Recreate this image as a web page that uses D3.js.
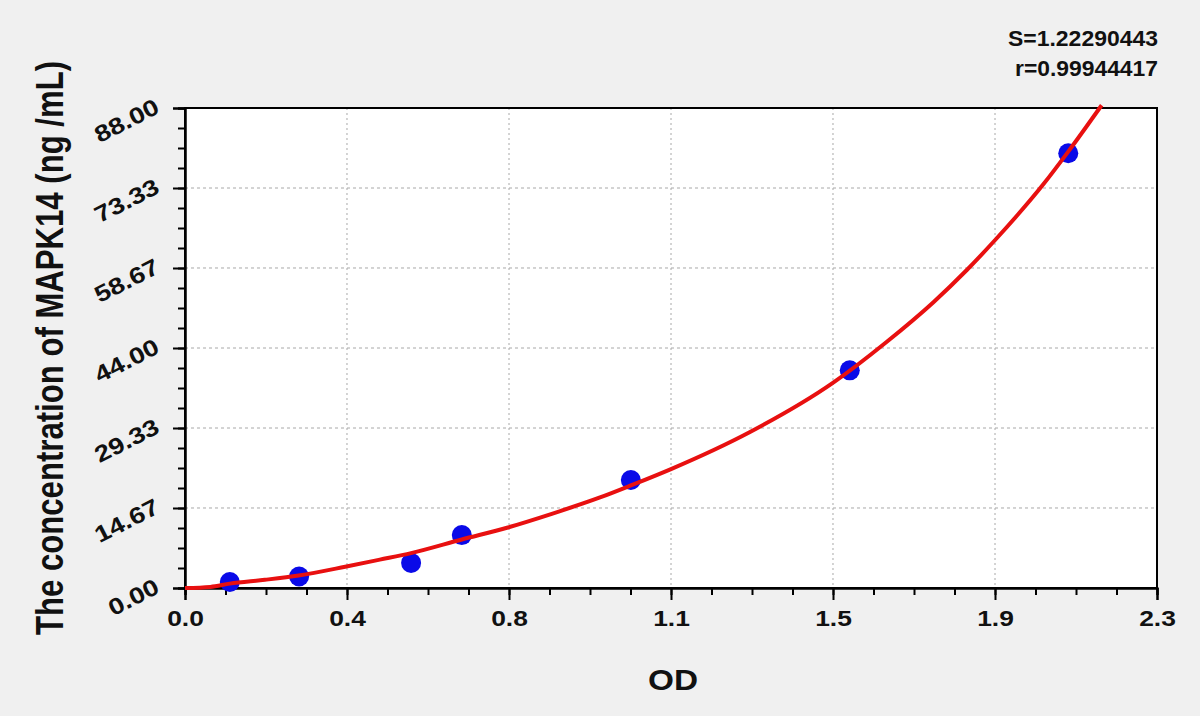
<!DOCTYPE html>
<html>
<head>
<meta charset="utf-8">
<script src="https://cdn.jsdelivr.net/npm/d3@7"></script>
<style>
  html, body { margin: 0; padding: 0; background: #f0f0f0; }
  svg text { font-family: "Liberation Sans", Arial, sans-serif; font-weight: bold; fill: #111; }
</style>
</head>
<body>
<div id="chart"></div>
<script>
// standard curve points (OD vs concentration)
const pointOD   = [0.106, 0.270, 0.535, 0.655, 1.055, 1.573, 2.090]
const pointConc = [1.1, 2.1, 4.6, 9.7, 19.8, 39.9, 79.7]

// fitted curve
const curveOD   = [0, 0.06, 0.106, 0.189, 0.269, 0.379, 0.461, 0.535, 0.655, 0.764, 0.868, 0.982, 1.055, 1.150, 1.337, 1.533, 1.660, 1.771, 1.850, 1.917, 2.031, 2.090, 2.169]
const curveConc = [0, 0.2, 0.8, 1.5, 2.3, 3.9, 5.2, 6.4, 8.9, 11.1, 13.6, 16.6, 18.8, 21.8, 28.6, 37.6, 45.1, 52.4, 58.3, 63.8, 74.0, 80.0, 88.5]

const xTicks = [0, 0.38333, 0.76667, 1.15, 1.53333, 1.91667, 2.3]
const xTickLabels = ["0.0", "0.4", "0.8", "1.1", "1.5", "1.9", "2.3"]
const yTicks = [0, 14.667, 29.333, 44, 58.667, 73.333, 88]
const yTickLabels = ["0.00", "14.67", "29.33", "44.00", "58.67", "73.33", "88.00"]

const statLines = ["S=1.22290443", "r=0.99944417"]
const statWidths = [150, 143]

const W = 1200, H = 716
const margin = ({ top: 108, right: 43, bottom: 128, left: 185 })
const width = W - margin.left - margin.right,
    height = H - margin.top - margin.bottom

const svg = d3.select("#chart").append("svg")
    .attr("width", W)
    .attr("height", H)

const g = svg.append("g")
    .attr("transform", `translate(${margin.left},${margin.top})`)

const xScale = d3.scaleLinear().domain([0, 2.3]).range([0, width])
const yScale = d3.scaleLinear().domain([0, 88]).range([height, 0])

// plot background
g.append("rect")
    .attr("width", width)
    .attr("height", height)
    .attr("fill", "#fff")

// grid
g.append("g").selectAll("line")
    .data(xTicks.slice(1, -1))
    .join("line")
    .attr("x1", d => xScale(d)).attr("x2", d => xScale(d))
    .attr("y1", 0).attr("y2", height)
    .attr("stroke", "#a8a8a8")
    .attr("stroke-dasharray", "2,3")

g.append("g").selectAll("line")
    .data(yTicks.slice(1, -1))
    .join("line")
    .attr("x1", 0).attr("x2", width)
    .attr("y1", d => yScale(d)).attr("y2", d => yScale(d))
    .attr("stroke", "#a8a8a8")
    .attr("stroke-dasharray", "3,3")

// minor ticks (4 per major interval)
const xMinor = d3.range(0, 25).map(i => i * 2.3 / 24)
const yMinor = d3.range(0, 25).map(i => i * 88 / 24)

g.append("g")
    .attr("transform", `translate(0,${height})`)
    .call(d3.axisBottom(xScale).tickValues(xMinor).tickSize(7).tickFormat(""))
g.append("g")
    .call(d3.axisLeft(yScale).tickValues(yMinor).tickSize(7).tickFormat(""))

let xAxis = g.append("g")
    .attr("class", "axis x-axis")
    .attr("transform", `translate(0,${height})`)
    .call(d3.axisBottom(xScale).tickValues(xTicks).tickSize(12).tickPadding(10)
        .tickFormat((d, i) => xTickLabels[i]))

xAxis.selectAll("text")
    .style("font-size", "22px")
    .style("font-weight", "bold")
    .attr("fill", "#111")
    .attr("transform", "scale(1.2,1)")

let yAxis = g.append("g")
    .attr("class", "axis y-axis")
    .call(d3.axisLeft(yScale).tickValues(yTicks).tickSize(12).tickFormat(""))

// slanted y tick labels
g.append("g").selectAll("text")
    .data(yTicks)
    .join("text")
    .attr("transform", d => `translate(-24,${yScale(d) + 4}) rotate(-27) scale(1.2,1)`)
    .attr("text-anchor", "end")
    .style("font-size", "23px")
    .text((d, i) => yTickLabels[i])

g.selectAll(".domain").attr("stroke", "#000").attr("stroke-width", 2)
g.selectAll(".tick line").attr("stroke", "#000").attr("stroke-width", 2)

// frame
g.append("rect")
    .attr("width", width)
    .attr("height", height)
    .attr("fill", "none")
    .attr("stroke", "#000")
    .attr("stroke-width", 2)

// points
g.append("g").selectAll("circle")
    .data(pointOD)
    .join("circle")
    .attr("cx", d => xScale(d))
    .attr("cy", (d, i) => yScale(pointConc[i]))
    .attr("r", 10)
    .attr("fill", "#0a0ae8")

// fitted curve
const line = d3.line()
    .x(d => xScale(d))
    .y((d, i) => yScale(curveConc[i]))
    .curve(d3.curveMonotoneX)

g.append("path")
    .datum(curveOD)
    .attr("d", line)
    .attr("fill", "none")
    .attr("stroke", "#e81010")
    .attr("stroke-width", 4)

// axis titles
svg.append("text")
    .attr("x", 673)
    .attr("y", 690)
    .attr("text-anchor", "middle")
    .attr("textLength", 50)
    .attr("lengthAdjust", "spacingAndGlyphs")
    .style("font-size", "30px")
    .text("OD")

// y title: glyphs drawn thick across, squeezed along the axis like the original
svg.append("text")
    .attr("transform", `translate(63,${margin.top + height / 2}) rotate(-90) scale(1,1.36)`)
    .attr("text-anchor", "middle")
    .attr("textLength", 574)
    .attr("lengthAdjust", "spacingAndGlyphs")
    .style("font-size", "28px")
    .text("The concentration of MAPK14 (ng /mL)")

// fit stats
svg.append("g").selectAll("text")
    .data(statLines)
    .join("text")
    .attr("x", (d, i) => 1158 - statWidths[i])
    .attr("y", (d, i) => 46 + i * 30)
    .attr("textLength", (d, i) => statWidths[i])
    .attr("lengthAdjust", "spacingAndGlyphs")
    .style("font-size", "22px")
    .text(d => d)
</script>
</body>
</html>
